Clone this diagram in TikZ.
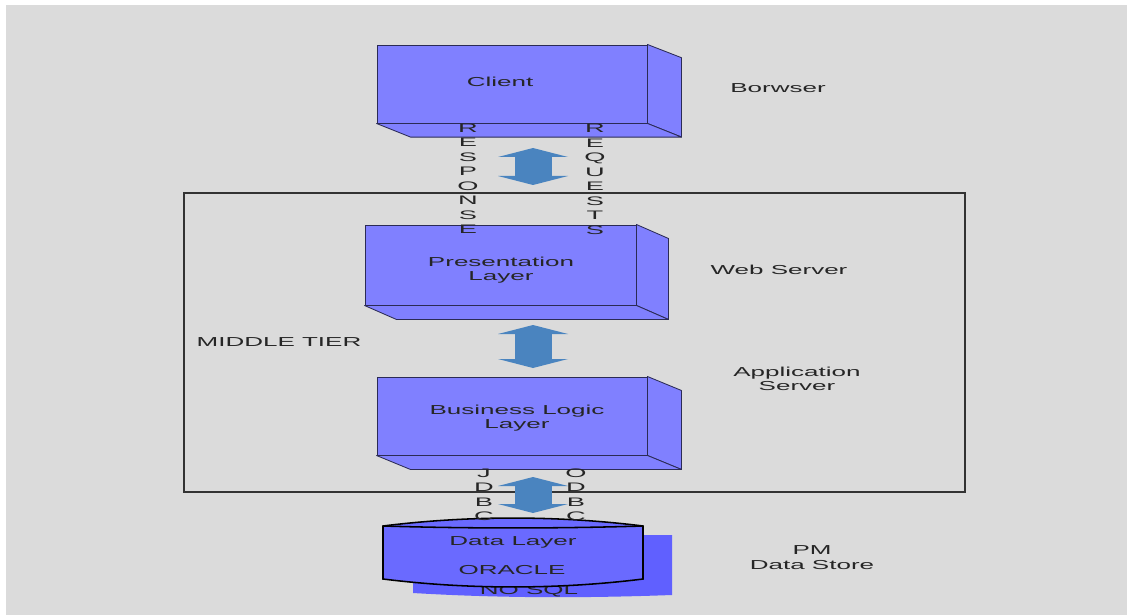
\documentclass[tikz,border=0pt]{standalone}
\usepackage{fontspec}
\setmainfont{Liberation Sans}
\usetikzlibrary{arrows.meta}

\definecolor{bggrey}{HTML}{DBDBDB}
\definecolor{boxblue}{HTML}{8080FF}
\definecolor{cylblue}{HTML}{6A6AFF}
\definecolor{shadowblue}{HTML}{6060FF}
\definecolor{edgeblue}{HTML}{2B2B55}
\definecolor{arrowblue}{HTML}{4A84BF}
\definecolor{textgrey}{HTML}{262626}

\tikzset{
    front/.style={draw=edgeblue, fill=boxblue, line width=0.7pt, minimum width=6.75cm, minimum height=1.95cm, inner sep=0pt},
    face/.style={draw=edgeblue, fill=boxblue, line width=0.6pt, line join=round},
    edge/.style={draw=edgeblue, line width=1.3pt},
    txt/.style={font=\fontsize{9.25pt}{10.4pt}\selectfont, text=textgrey, align=center, xscale=2, inner sep=0pt},
    vtxt/.style={font=\fontsize{8.8pt}{10.3pt}\selectfont, text=textgrey, align=center, xscale=2.2, inner sep=0pt},
    updown/.style={arrowblue, line width=0.925cm, {Triangle[length=0.225cm,width=1.75cm,line width=0pt]}-{Triangle[length=0.225cm,width=1.75cm,line width=0pt]}},
    tier/.style={draw=black!80, line width=1.4pt}
}

\begin{document}
\begin{tikzpicture}

        \fill[white] (0,0) rectangle (28.175,15.375);
        \fill[bggrey] (0.15,0) rectangle (28.175,15.25);
        \useasboundingbox (0,0) rectangle (28.175,15.375);

        \draw[tier] (4.6,10.55) rectangle (24.125,3.075);

        \node[front] (client) at (12.8,13.275) {};
        \node[front, minimum width=6.775cm, minimum height=2cm] (present) at (12.5125,8.75) {};
        \node[front] (logic) at (12.8,4.975) {};

        \draw[face] (client.north east) -- ++(0.85,-0.33) -- ([shift={(0.85,-0.34)}]client.south east) -- (client.south east) -- cycle;
        \draw[face] (client.south west) -- ([shift={(0.85,-0.34)}]client.south west) -- ([shift={(0.85,-0.34)}]client.south east) -- (client.south east) -- cycle;
        \draw[edge] (client.north east) -- (client.south east) -- (client.south west);

        \draw[face] (present.north east) -- ++(0.8,-0.35) -- ([shift={(0.8,-0.35)}]present.south east) -- (present.south east) -- cycle;
        \draw[face] (present.south west) -- ([shift={(0.8,-0.35)}]present.south west) -- ([shift={(0.8,-0.35)}]present.south east) -- (present.south east) -- cycle;
        \draw[edge] (present.north east) -- (present.south east) -- (present.south west);

        \draw[face] (logic.north east) -- ++(0.85,-0.35) -- ([shift={(0.85,-0.35)}]logic.south east) -- (logic.south east) -- cycle;
        \draw[face] (logic.south west) -- ([shift={(0.85,-0.35)}]logic.south west) -- ([shift={(0.85,-0.35)}]logic.south east) -- (logic.south east) -- cycle;
        \draw[edge] (logic.north east) -- (logic.south east) -- (logic.south west);

        \fill[shadowblue] (10.325,2.0) -- (16.8,2.0) -- (16.8,0.5) .. controls (14.6,0.42) and (12.5,0.42) .. (10.325,0.55) -- cycle;
        \node[txt] (nosql) at (13.225,0.59) {NO SQL};
        \draw[fill=cylblue, draw=black, line width=1.1pt] (9.575,2.225) .. controls (11.7,2.49) and (13.95,2.49) .. (16.075,2.225) -- (16.075,0.9) .. controls (13.95,0.635) and (11.7,0.635) .. (9.575,0.9) -- cycle;
        \draw[draw=black, line width=1.1pt] (9.575,2.225) .. controls (11.7,2.16) and (13.95,2.16) .. (16.075,2.225);

        \coordinate (clientbot) at (13.325,11.675);
        \coordinate (presenttop) at (13.325,10.75);
        \coordinate (presentbot) at (13.325,7.25);
        \coordinate (logictop) at (13.325,6.175);
        \coordinate (logicbot) at (13.325,3.45);
        \coordinate (datatop) at (13.325,2.55);

        \draw[updown] (clientbot) -- (presenttop);
        \draw[updown] (presentbot) -- (logictop);
        \draw[updown] (logicbot) -- (datatop);

        \node[txt] (clienttxt) at (12.5,13.325) {Client};
        \node[txt] (presenttxt) at (12.525,8.625) {Presentation\\Layer};
        \node[txt] (logictxt) at (12.925,4.925) {Business Logic\\Layer};
        \node[txt] (datatxt) at (12.825,1.825) {Data Layer};
        \node[txt] (oracle) at (12.8,1.125) {ORACLE};

        \node[vtxt] (response) at (11.7,10.906) {R\\E\\S\\P\\O\\N\\S\\E};
        \node[vtxt] (requests) at (14.875,10.89) {R\\E\\Q\\U\\E\\S\\T\\S};
        \node[vtxt] (jdbc) at (12.1,3.006) {J\\D\\B\\C};
        \node[vtxt] (odbc) at (14.4,3.006) {O\\D\\B\\C};

        \node[txt] (browser) at (19.45,13.175) {Borwser};
        \node[txt] (webserver) at (19.475,8.625) {Web Server};
        \node[txt] (middle) at (6.975,6.825) {MIDDLE TIER};
        \node[txt] (appserver) at (19.925,5.9) {Application\\Server};
        \node[txt] (datastore) at (20.3,1.4375) {PM\\Data Store};

\end{tikzpicture}
\end{document}
